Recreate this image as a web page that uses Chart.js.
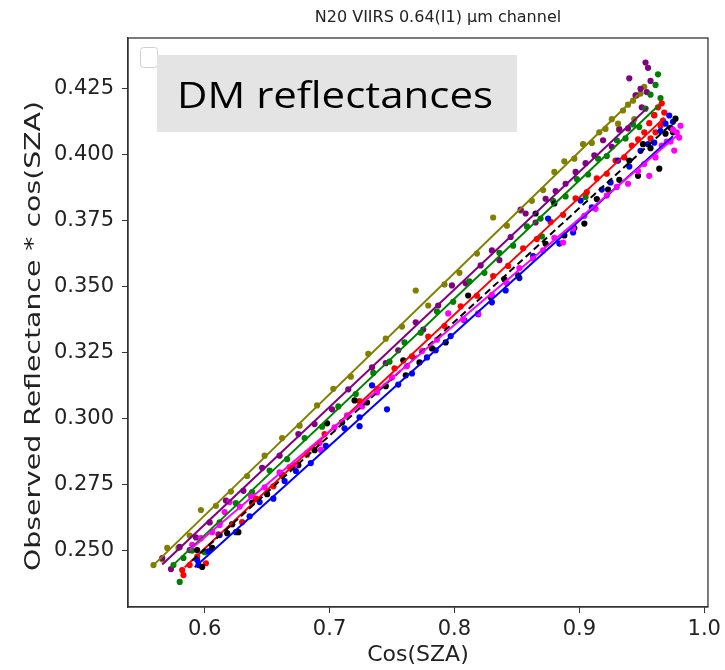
<!DOCTYPE html>
<html>
<head>
<meta charset="utf-8">
<script src="https://cdn.jsdelivr.net/npm/chart.js@4.4.1/dist/chart.umd.min.js"></script>
<style>
  html, body { margin: 0; padding: 0; background: #fff; }
</style>
</head>
<body>
<canvas id="c" width="725" height="670"></canvas>
<script>
// tick labels
const xTicks = [0.6, 0.7, 0.8, 0.9, 1.0];
const yTicks = [0.250, 0.275, 0.300, 0.325, 0.350, 0.375, 0.400, 0.425];

// observed points [cos(SZA), reflectance*cos(SZA)]
const olivePts = [[0.559,0.2443],[0.566,0.2465],[0.570,0.2508],[0.579,0.2508],[0.588,0.2555],[0.597,0.2652],[0.609,0.2668],[0.621,0.2722],[0.634,0.2781],[0.648,0.2858],[0.662,0.2925],[0.676,0.2972],[0.690,0.3049],[0.703,0.3112],[0.717,0.3158],[0.731,0.3245],[0.745,0.3302],[0.758,0.3348],[0.769,0.3485],[0.779,0.3428],[0.792,0.3508],[0.804,0.3552],[0.818,0.3625],[0.831,0.3762],[0.842,0.3731],[0.853,0.3788],[0.862,0.3825],[0.871,0.3866],[0.880,0.3935],[0.888,0.3975],[0.896,0.3985],[0.903,0.4040],[0.910,0.4045],[0.916,0.4085],[0.921,0.4098],[0.926,0.4135],[0.931,0.4118],[0.935,0.4168],[0.939,0.4190],[0.943,0.4205],[0.946,0.4225],[0.949,0.4232],[0.952,0.4258],[0.944,0.4135],[0.932,0.4098]];
const purplePts = [[0.566,0.2470],[0.573,0.2428],[0.580,0.2512],[0.588,0.2500],[0.593,0.2548],[0.604,0.2605],[0.617,0.2688],[0.631,0.2725],[0.646,0.2812],[0.660,0.2858],[0.675,0.2940],[0.688,0.2978],[0.702,0.3034],[0.715,0.3110],[0.734,0.3193],[0.745,0.3209],[0.755,0.3258],[0.769,0.3364],[0.775,0.3337],[0.787,0.3428],[0.798,0.3504],[0.809,0.3512],[0.821,0.3580],[0.830,0.3637],[0.836,0.3600],[0.845,0.3688],[0.853,0.3792],[0.857,0.3777],[0.865,0.3743],[0.873,0.3833],[0.881,0.3862],[0.889,0.3890],[0.897,0.3935],[0.905,0.3968],[0.912,0.3998],[0.919,0.4055],[0.926,0.4030],[0.932,0.4095],[0.939,0.4100],[0.940,0.4290],[0.945,0.4225],[0.949,0.4250],[0.950,0.4180],[0.953,0.4350],[0.955,0.4330],[0.957,0.4280],[0.954,0.4238]];
const greenPts = [[0.575,0.2443],[0.580,0.2379],[0.583,0.2470],[0.590,0.2498],[0.600,0.2492],[0.612,0.2605],[0.625,0.2678],[0.638,0.2720],[0.652,0.2802],[0.666,0.2845],[0.680,0.2925],[0.694,0.2968],[0.707,0.3045],[0.721,0.3092],[0.735,0.3172],[0.748,0.3215],[0.760,0.3288],[0.773,0.3325],[0.786,0.3405],[0.799,0.3442],[0.812,0.3520],[0.824,0.3552],[0.836,0.3628],[0.847,0.3655],[0.858,0.3728],[0.869,0.3758],[0.879,0.3825],[0.889,0.3842],[0.898,0.3908],[0.907,0.3925],[0.915,0.3985],[0.922,0.3995],[0.930,0.4055],[0.937,0.4062],[0.943,0.4115],[0.948,0.4105],[0.953,0.4175],[0.957,0.4228],[0.961,0.4265],[0.963,0.4305],[0.965,0.4215],[0.960,0.4150],[0.905,0.3840],[0.870,0.3690]];
const redPts = [[0.582,0.2424],[0.583,0.2405],[0.588,0.2443],[0.594,0.2475],[0.601,0.2450],[0.611,0.2560],[0.622,0.2598],[0.630,0.2606],[0.641,0.2695],[0.655,0.2742],[0.668,0.2815],[0.682,0.2862],[0.696,0.2940],[0.710,0.2985],[0.724,0.3065],[0.738,0.3112],[0.752,0.3190],[0.766,0.3235],[0.779,0.3310],[0.792,0.3350],[0.805,0.3425],[0.818,0.3465],[0.831,0.3540],[0.843,0.3578],[0.855,0.3645],[0.866,0.3680],[0.877,0.3745],[0.887,0.3772],[0.897,0.3835],[0.906,0.3858],[0.914,0.3910],[0.922,0.3928],[0.929,0.3978],[0.936,0.3990],[0.942,0.4035],[0.947,0.4058],[0.952,0.4085],[0.956,0.4120],[0.960,0.4150],[0.963,0.4180],[0.966,0.4195],[0.968,0.4160],[0.965,0.4110],[0.961,0.4085],[0.957,0.4062],[0.967,0.4130]];
const bluePts = [[0.594,0.2462],[0.595,0.2443],[0.603,0.2495],[0.612,0.2557],[0.625,0.2568],[0.636,0.2628],[0.644,0.2682],[0.655,0.2695],[0.664,0.2762],[0.673,0.2800],[0.685,0.2830],[0.697,0.2895],[0.712,0.2962],[0.724,0.2970],[0.724,0.3004],[0.734,0.3125],[0.746,0.3034],[0.755,0.3128],[0.766,0.3170],[0.778,0.3231],[0.785,0.3258],[0.797,0.3312],[0.808,0.3372],[0.819,0.3395],[0.830,0.3440],[0.841,0.3485],[0.852,0.3532],[0.863,0.3615],[0.875,0.3758],[0.884,0.3663],[0.895,0.3705],[0.901,0.3826],[0.910,0.3800],[0.918,0.3868],[0.925,0.3895],[0.931,0.3978],[0.940,0.3955],[0.949,0.4015],[0.955,0.4040],[0.960,0.4046],[0.965,0.4090],[0.969,0.4118],[0.972,0.4149],[0.975,0.4125]];
const blackPts = [[0.594,0.2500],[0.598,0.2436],[0.606,0.2508],[0.618,0.2564],[0.622,0.2598],[0.627,0.2568],[0.638,0.2680],[0.650,0.2712],[0.662,0.2785],[0.675,0.2822],[0.688,0.2879],[0.698,0.2981],[0.710,0.2985],[0.720,0.3068],[0.730,0.3060],[0.745,0.3122],[0.759,0.3220],[0.761,0.3163],[0.772,0.3212],[0.782,0.3265],[0.793,0.3288],[0.811,0.3466],[0.829,0.3459],[0.840,0.3528],[0.851,0.3542],[0.865,0.3777],[0.873,0.3662],[0.880,0.3815],[0.888,0.3694],[0.896,0.3722],[0.904,0.3739],[0.914,0.3832],[0.923,0.3868],[0.932,0.3905],[0.940,0.3978],[0.947,0.3920],[0.951,0.4040],[0.957,0.4025],[0.964,0.3947],[0.969,0.4080],[0.973,0.4102],[0.977,0.4137],[0.975,0.4085]];
const magentaPts = [[0.590,0.2520],[0.597,0.2545],[0.606,0.2568],[0.612,0.2595],[0.616,0.2644],[0.620,0.2682],[0.628,0.2665],[0.637,0.2705],[0.648,0.2738],[0.660,0.2795],[0.672,0.2822],[0.682,0.2868],[0.692,0.2906],[0.693,0.2880],[0.704,0.2966],[0.714,0.3011],[0.726,0.3045],[0.738,0.3098],[0.750,0.3155],[0.762,0.3198],[0.774,0.3255],[0.786,0.3298],[0.795,0.3398],[0.807,0.3375],[0.819,0.3398],[0.830,0.3468],[0.842,0.3512],[0.852,0.3570],[0.863,0.3606],[0.871,0.3637],[0.880,0.3685],[0.887,0.3667],[0.895,0.3720],[0.904,0.3768],[0.913,0.3795],[0.922,0.3845],[0.930,0.3878],[0.939,0.3890],[0.947,0.3938],[0.952,0.3965],[0.956,0.3920],[0.961,0.3990],[0.966,0.4035],[0.970,0.4050],[0.973,0.4050],[0.976,0.4016],[0.978,0.4085],[0.980,0.4065],[0.981,0.4110],[0.975,0.4095]];

// fitted lines, start and end
const oliveFit = [[0.559,0.2443],[0.947,0.4228]];
const purpleFit = [[0.566,0.2445],[0.955,0.4180]];
const greenFit = [[0.574,0.2440],[0.964,0.4190]];
const redFit = [[0.584,0.2435],[0.968,0.4140]];
const blueFit = [[0.592,0.2435],[0.975,0.4070]];
const blackFit = [[0.590,0.2460],[0.977,0.4130]];
const magentaFit = [[0.588,0.2500],[0.980,0.4080]];

const toXY = arr => arr.map(p => ({x: p[0], y: p[1]}));

const series = [
  {pts: magentaPts, fit: magentaFit, color: '#ff00ff'},
  {pts: blackPts, fit: blackFit, color: '#000000', dash: [7, 4]},
  {pts: bluePts, fit: blueFit, color: '#0000ff'},
  {pts: redPts, fit: redFit, color: '#ff0000'},
  {pts: greenPts, fit: greenFit, color: '#008000'},
  {pts: purplePts, fit: purpleFit, color: '#800080'},
  {pts: olivePts, fit: oliveFit, color: '#808000'}
];

const datasets = [];
series.forEach(function (s, i) {
  datasets.push({
    type: 'line', data: toXY(s.fit), borderColor: s.color, borderWidth: 2,
    borderDash: s.dash || [], pointRadius: 0, fill: false, order: i
  });
  datasets.push({
    type: 'scatter', data: toXY(s.pts), backgroundColor: s.color, borderColor: s.color,
    pointRadius: 3.1, borderWidth: 0, order: 20 + i
  });
});

const FONT = 'DejaVu Sans';

// draws one line of text squeezed/stretched to a given length
function fitText(ctx, text, len) {
  const w = ctx.measureText(text).width;
  ctx.save();
  ctx.scale(len / w, 1);
  ctx.fillText(text, 0, 0);
  ctx.restore();
}

const decor = {
  id: 'decor',
  afterDraw(chart) {
    const {ctx, chartArea: a} = chart;
    ctx.save();
    // frame
    ctx.strokeStyle = '#333';
    ctx.lineWidth = 1.3;
    ctx.strokeRect(a.left, a.top, a.right - a.left, a.bottom - a.top);
    // title
    ctx.fillStyle = '#222';
    ctx.font = '16px "' + FONT + '"';
    ctx.textAlign = 'center';
    ctx.textBaseline = 'middle';
    ctx.fillText('N20 VIIRS 0.64(I1) µm channel', (a.left + a.right) / 2 + 20, 18);
    // x label
    ctx.font = '22px "' + FONT + '"';
    ctx.fillText('Cos(SZA)', (a.left + a.right) / 2, 655);
    // y label
    ctx.save();
    ctx.translate(34, 336);
    ctx.rotate(-Math.PI / 2);
    fitText(ctx, 'Observed Reflectance * cos(SZA)', 470);
    ctx.restore();
    // empty legend box
    ctx.fillStyle = 'rgba(255,255,255,0.8)';
    ctx.strokeStyle = '#d0d0d0';
    ctx.lineWidth = 1;
    ctx.beginPath();
    ctx.roundRect(140.5, 47.5, 17, 20, 3);
    ctx.fill();
    ctx.stroke();
    // overlay label
    ctx.fillStyle = '#e4e4e4';
    ctx.fillRect(157, 55, 360, 77);
    ctx.fillStyle = '#000';
    ctx.font = '36px "Open Sans"';
    ctx.textAlign = 'left';
    ctx.textBaseline = 'alphabetic';
    ctx.save();
    ctx.translate(177, 108);
    fitText(ctx, 'DM reflectances', 316);
    ctx.restore();
    ctx.restore();
  }
};

new Chart(document.getElementById('c'), {
  data: {datasets: datasets},
  plugins: [decor],
  options: {
    responsive: false,
    animation: false,
    layout: {padding: {left: 0, right: 13, top: 38, bottom: 0}},
    plugins: {legend: {display: false}, tooltip: {enabled: false}, title: {display: false}},
    scales: {
      x: {
        type: 'linear', min: 0.5386, max: 1.003,
        afterBuildTicks: s => { s.ticks = xTicks.map(v => ({value: v})); },
        afterFit: s => { s.height = 63; },
        grid: {drawOnChartArea: false, drawTicks: true, tickLength: 6, color: '#333'},
        border: {display: true, color: '#333', width: 1.3},
        ticks: {color: '#222', font: {family: FONT, size: 21}, padding: 4,
                callback: v => v.toFixed(1), maxRotation: 0}
      },
      y: {
        type: 'linear', min: 0.2284, max: 0.4443,
        afterBuildTicks: s => { s.ticks = yTicks.map(v => ({value: v})); },
        afterFit: s => { s.width = 128; },
        grid: {drawOnChartArea: false, drawTicks: true, tickLength: 6, color: '#333'},
        border: {display: true, color: '#333', width: 1.3},
        ticks: {color: '#222', font: {family: FONT, size: 21}, padding: 8,
                callback: v => v.toFixed(3)}
      }
    }
  }
});
</script>
</body>
</html>
